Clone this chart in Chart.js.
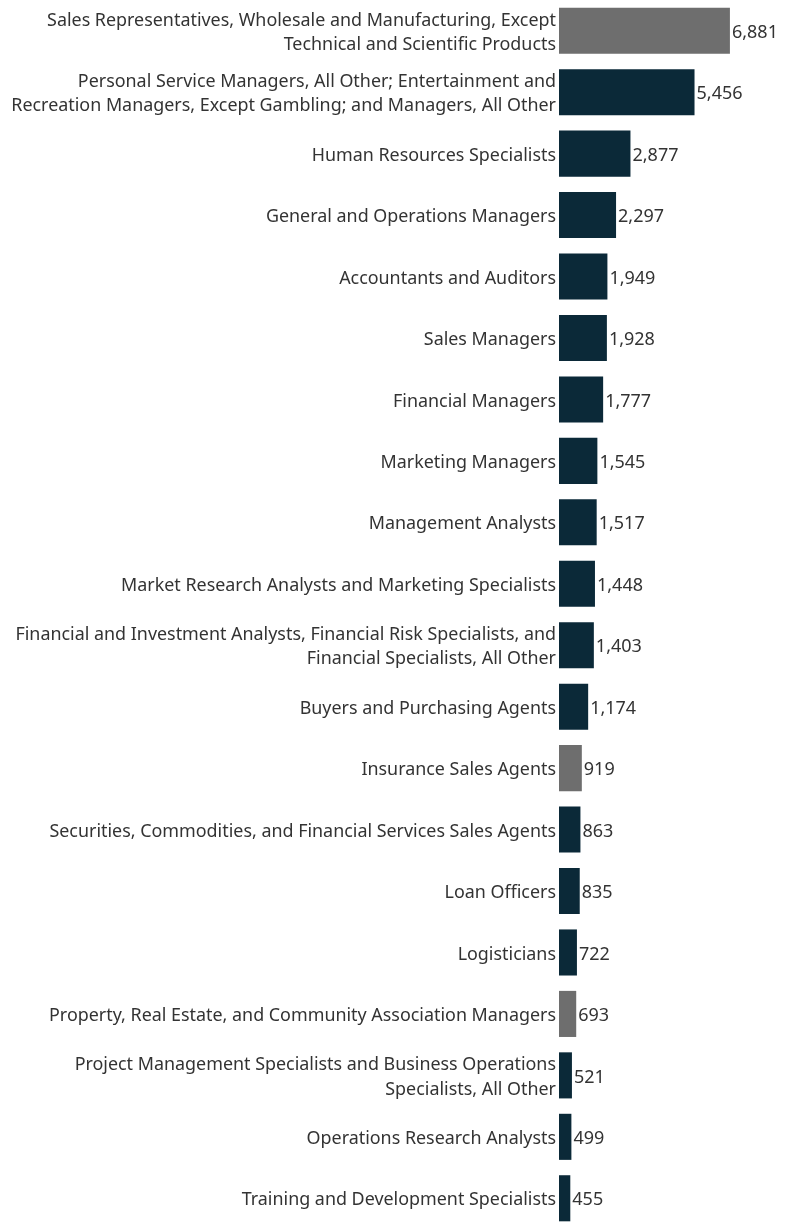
<!DOCTYPE html>
<html>
<head>
<meta charset="utf-8">
<script src="https://cdn.jsdelivr.net/npm/chart.js@4"></script>
<style>
  html, body { margin: 0; padding: 0; background: #fff; }
  #wrap { width: 790px; height: 1229px; position: relative; }
</style>
</head>
<body>
<div id="wrap"><canvas id="ocupacoesChart"></canvas></div>
<script>
const ocupacoes = [
  ["Sales Representatives, Wholesale and Manufacturing, Except", "Technical and Scientific Products"],
  ["Personal Service Managers, All Other; Entertainment and", "Recreation Managers, Except Gambling; and Managers, All Other"],
  "Human Resources Specialists",
  "General and Operations Managers",
  "Accountants and Auditors",
  "Sales Managers",
  "Financial Managers",
  "Marketing Managers",
  "Management Analysts",
  "Market Research Analysts and Marketing Specialists",
  ["Financial and Investment Analysts, Financial Risk Specialists, and", "Financial Specialists, All Other"],
  "Buyers and Purchasing Agents",
  "Insurance Sales Agents",
  "Securities, Commodities, and Financial Services Sales Agents",
  "Loan Officers",
  "Logisticians",
  "Property, Real Estate, and Community Association Managers",
  ["Project Management Specialists and Business Operations", "Specialists, All Other"],
  "Operations Research Analysts",
  "Training and Development Specialists",
];

const totais = [6881, 5456, 2877, 2297, 1949, 1928, 1777, 1545, 1517, 1448, 1403, 1174, 919, 863, 835, 722, 693, 521, 499, 455];

// barras em cinza (destaque)
const destaque = [true, false, false, false, false, false, false, false, false, false, false, false, true, false, false, false, true, false, false, false];

const fonte = "'Noto Sans', 'Open Sans', sans-serif";

// rótulos de valor no fim de cada barra
const rotulosValor = {
  id: "rotulosValor",
  afterDatasetsDraw(chart) {
    const ctx = chart.ctx;
    const meta = chart.getDatasetMeta(0);
    ctx.save();
    ctx.font = "18px " + fonte;
    ctx.fillStyle = "#333333";
    ctx.textAlign = "left";
    ctx.textBaseline = "middle";
    meta.data.forEach((bar, i) => {
      ctx.fillText(totais[i].toLocaleString("en-US"), bar.x + 2, bar.y + 2);
    });
    ctx.restore();
  },
};

new Chart(document.getElementById("ocupacoesChart"), {
  type: "bar",
  data: {
    labels: ocupacoes,
    datasets: [
      {
        data: totais,
        backgroundColor: destaque.map((d) => (d ? "#6e6e6e" : "#0b2938")),
        categoryPercentage: 0.75,
        barPercentage: 1,
      },
    ],
  },
  options: {
    indexAxis: "y",
    responsive: true,
    maintainAspectRatio: false,
    animation: false,
    layout: { padding: 0 },
    plugins: {
      legend: { display: false },
      tooltip: { enabled: false },
    },
    scales: {
      x: {
        display: false,
        min: 0,
        max: 9300,
      },
      y: {
        grid: { display: false, drawTicks: false },
        border: { display: false },
        ticks: {
          color: "#333333",
          padding: 3,
          labelOffset: 2,
          font: { family: fonte, size: 17.9, lineHeight: 1.35 },
        },
        afterFit(scale) {
          scale.width = 559;
          scale.paddingTop = 0;
          scale.paddingBottom = 0;
        },
      },
    },
  },
  plugins: [rotulosValor],
});
</script>
</body>
</html>
